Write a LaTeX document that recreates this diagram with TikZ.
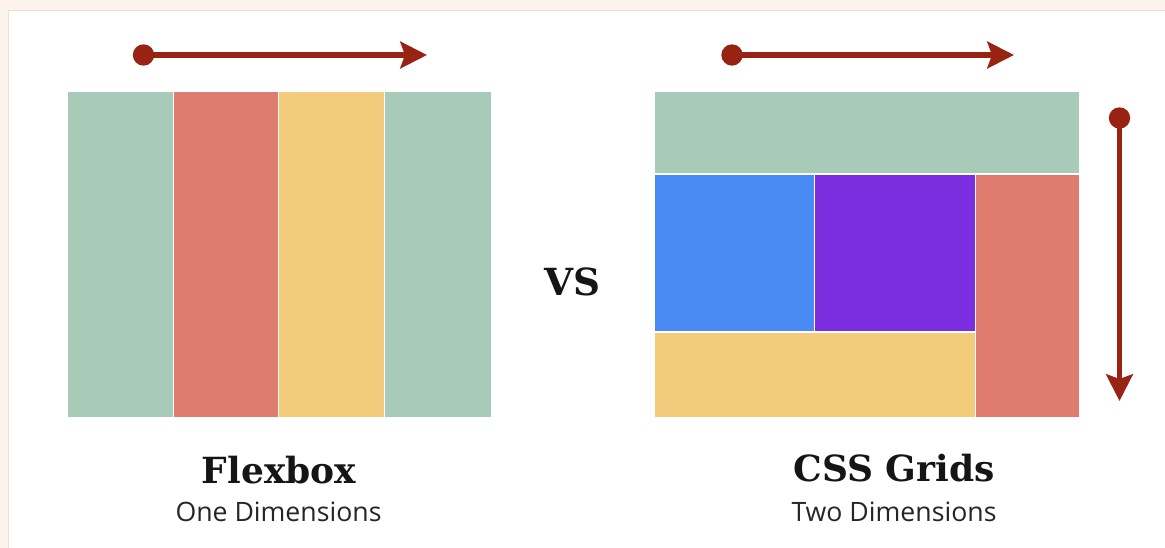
\documentclass[tikz,border=0pt]{standalone}
\usepackage{fontspec}
\usetikzlibrary{arrows.meta}
\newfontfamily\slabfont{DejaVu Serif}
\newfontfamily\subfont{Open Sans}
\definecolor{cream}{HTML}{FBF3EC}
\definecolor{panelline}{HTML}{EEDFD5}
\definecolor{cgreen}{HTML}{A8CBB9}
\definecolor{cred}{HTML}{DF7B6F}
\definecolor{cyellow}{HTML}{F2CC7A}
\definecolor{cblue}{HTML}{4A8AF4}
\definecolor{cpurple}{HTML}{7B2EE0}
\definecolor{carrow}{HTML}{992313}
\definecolor{ctext}{HTML}{151515}
\definecolor{csub}{HTML}{262626}
\tikzset{
  flowarrow/.style={draw=carrow, line width=3.8pt, -{Stealth[length=20pt,width=20pt,inset=3.5pt]}},
  flowdot/.style={circle, fill=carrow, minimum size=16pt, inner sep=0pt},
  titletext/.style={font=\slabfont\bfseries\fontsize{27}{30}\selectfont, text=ctext, anchor=base, inner sep=0pt},
  subtext/.style={font=\subfont\fontsize{20}{24}\selectfont, text=csub, anchor=base, inner sep=0pt},
}
\begin{document}
\begin{tikzpicture}[x=0.75pt, y=-0.75pt]
\useasboundingbox (0,0) rectangle (1165,548);
\fill[cream] (0,0) rectangle (1165,548);
\filldraw[fill=white, draw=panelline, line width=0.6pt] (8.5,10) rectangle (1170,560);

% Flexbox columns
\fill[cgreen]  (68,92) rectangle (172.5,417);
\fill[cred]    (174,92) rectangle (277.5,417);
\fill[cyellow] (279,92) rectangle (383.5,417);
\fill[cgreen]  (385,92) rectangle (491,417);

% Grid cells
\fill[cgreen]  (655,92) rectangle (1079,173.5);
\fill[cblue]   (655,175) rectangle (813.5,331.5);
\fill[cpurple] (815,175) rectangle (974.5,331.5);
\fill[cyellow] (655,333) rectangle (974.5,417);
\fill[cred]    (976,175) rectangle (1079,417);

% Arrows
\node[flowdot] (d1) at (143.5,55) {};
\coordinate (t1) at (427,55);
\draw[flowarrow] (d1.center) -- (t1);

\node[flowdot] (d2) at (732,55) {};
\coordinate (t2) at (1014,55);
\draw[flowarrow] (d2.center) -- (t2);

\node[flowdot] (d3) at (1119.5,118) {};
\coordinate (t3) at (1119.5,401);
\draw[flowarrow] (d3.center) -- (t3);

% Texts
\node[font=\slabfont\bfseries\fontsize{28}{30}\selectfont, text=ctext, anchor=base, inner sep=0pt] (vs) at (572,296) {VS};
\node[titletext] (flex) at (279,484) {Flexbox};
\node[subtext] (one) at (278.5,522) {One Dimensions};
\node[titletext] (css) at (894,482) {CSS Grids};
\node[subtext] (two) at (894,522) {Two Dimensions};
\end{tikzpicture}
\end{document}
